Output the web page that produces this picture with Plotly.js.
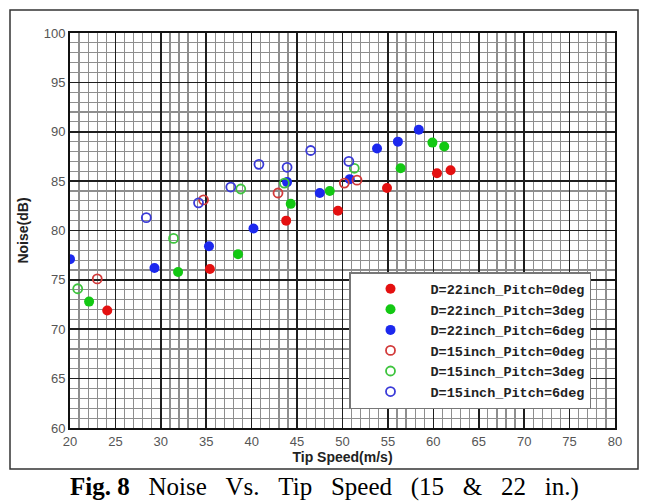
<!DOCTYPE html>
<html>
<head>
<meta charset="utf-8">
<script src="https://cdn.plot.ly/plotly-3.0.1.min.js"></script>
<style>
html,body{margin:0;padding:0;background:#fff;}
#chart{width:658px;height:504px;}
</style>
</head>
<body>
<div id="chart"></div>
<script>
// Data (Tip Speed m/s, Noise dB)
const seriesNames = [
  "D=22inch_Pitch=0deg", "D=22inch_Pitch=3deg", "D=22inch_Pitch=6deg",
  "D=15inch_Pitch=0deg", "D=15inch_Pitch=3deg", "D=15inch_Pitch=6deg"
];
const x22_0 = [24.1, 35.4, 43.8, 49.5, 54.9, 60.4, 61.9];
const y22_0 = [71.9, 76.1, 81.0, 82.0, 84.3, 85.8, 86.1];
const x22_3 = [22.1, 31.9, 38.5, 44.3, 48.6, 56.4, 59.9, 61.2];
const y22_3 = [72.8, 75.8, 77.6, 82.7, 84.0, 86.3, 88.9, 88.5];
const x22_6 = [20.0, 29.3, 35.3, 40.2, 43.9, 47.5, 50.8, 53.8, 56.1, 58.4];
const y22_6 = [77.1, 76.2, 78.4, 80.2, 84.9, 83.8, 85.2, 88.3, 89.0, 90.2];
const x15_0 = [23.0, 34.7, 42.9, 50.2, 51.6];
const y15_0 = [75.1, 83.1, 83.8, 84.8, 85.1];
const x15_3 = [20.85, 31.4, 38.8, 43.6, 51.3];
const y15_3 = [74.1, 79.2, 84.2, 84.8, 86.3];
const x15_6 = [28.4, 34.15, 37.7, 40.8, 43.9, 46.5, 50.7];
const y15_6 = [81.3, 82.8, 84.4, 86.7, 86.4, 88.1, 87.0];
const xTicks = [20, 25, 30, 35, 40, 45, 50, 55, 60, 65, 70, 75, 80];
const yTicks = [60, 65, 70, 75, 80, 85, 90, 95, 100];

const colors = ["#e41010", "#13c813", "#1c28ee", "#d23a3a", "#3ec43e", "#3a3ad8"];
const xs = [x22_0, x22_3, x22_6, x15_0, x15_3, x15_6];
const ys = [y22_0, y22_3, y22_6, y15_0, y15_3, y15_6];

const traces = seriesNames.map((n, i) => ({
  type: "scatter", mode: "markers", name: n, x: xs[i], y: ys[i],
  marker: i < 3
    ? {symbol: "circle", size: 10, color: colors[i], line: {width: 0}}
    : {symbol: "circle-open", size: 9, color: colors[i], line: {width: 1.8, color: colors[i]}}
}));

const L = 70, R = 615, T = 33, B = 428, W = 658, H = 504;
const pw = R - L, ph = B - T;
const px = v => (v - L) / pw;
const py = v => (B - v) / ph;

const axisCommon = {
  showline: true, mirror: true, linecolor: "#111", linewidth: 2,
  showgrid: true, gridcolor: "#1e1e1e", gridwidth: 1.6,
  zeroline: false, ticks: "", tickmode: "linear", dtick: 5,
  tickfont: {family: "Liberation Sans, Arial, sans-serif", size: 13, color: "#555"},
};
const minorGrid = {dtick: 1, showgrid: true, gridcolor: "#8e8e8e", gridwidth: 1.2, ticks: ""};

const NB = "\u00a0\u00a0\u00a0";
const captionText = "<b>Fig.\u00a08</b>" + NB + ["Noise", "Vs.", "Tip", "Speed", "(15", "&amp;", "22", "in.)"].join(NB);

const layout = {
  width: W, height: H,
  margin: {l: L, r: W - R, t: T, b: H - B},
  paper_bgcolor: "#fff", plot_bgcolor: "#fff",
  showlegend: true,
  xaxis: Object.assign({}, axisCommon, {
    range: [xTicks[0], xTicks[xTicks.length - 1]], tick0: xTicks[0],
    minor: minorGrid,
    title: {text: "<b>Tip Speed(m/s)</b>", standoff: 4,
      font: {family: "Liberation Sans, Arial, sans-serif", size: 14, color: "#222"}}
  }),
  yaxis: Object.assign({}, axisCommon, {
    range: [yTicks[0], yTicks[yTicks.length - 1]], tick0: yTicks[0],
    minor: minorGrid,
    title: {text: "<b>Noise(dB)</b>", standoff: 12,
      font: {family: "Liberation Sans, Arial, sans-serif", size: 14, color: "#222"}}
  }),
  legend: {
    x: px(349), y: py(272), xanchor: "left", yanchor: "top",
    bgcolor: "#fff", bordercolor: "#777", borderwidth: 1.5,
    font: {family: "Liberation Mono, DejaVu Sans Mono, monospace", size: 13.5, color: "#222", weight: "bold"},
    itemwidth: 70, tracegroupgap: 0
  },
  shapes: [{
    type: "rect", xref: "paper", yref: "paper",
    x0: px(10), x1: px(638), y0: py(469), y1: py(10),
    line: {color: "#333", width: 1.5}, fillcolor: "rgba(0,0,0,0)", layer: "below"
  }],
  annotations: [{
    xref: "paper", yref: "paper", x: px(324), y: py(487),
    xanchor: "center", yanchor: "middle", showarrow: false,
    text: captionText,
    font: {family: "Liberation Serif, Times New Roman, serif", size: 25, color: "#000"}
  }]
};

Plotly.newPlot("chart", traces, layout, {displayModeBar: false, staticPlot: true});
</script>
</body>
</html>
